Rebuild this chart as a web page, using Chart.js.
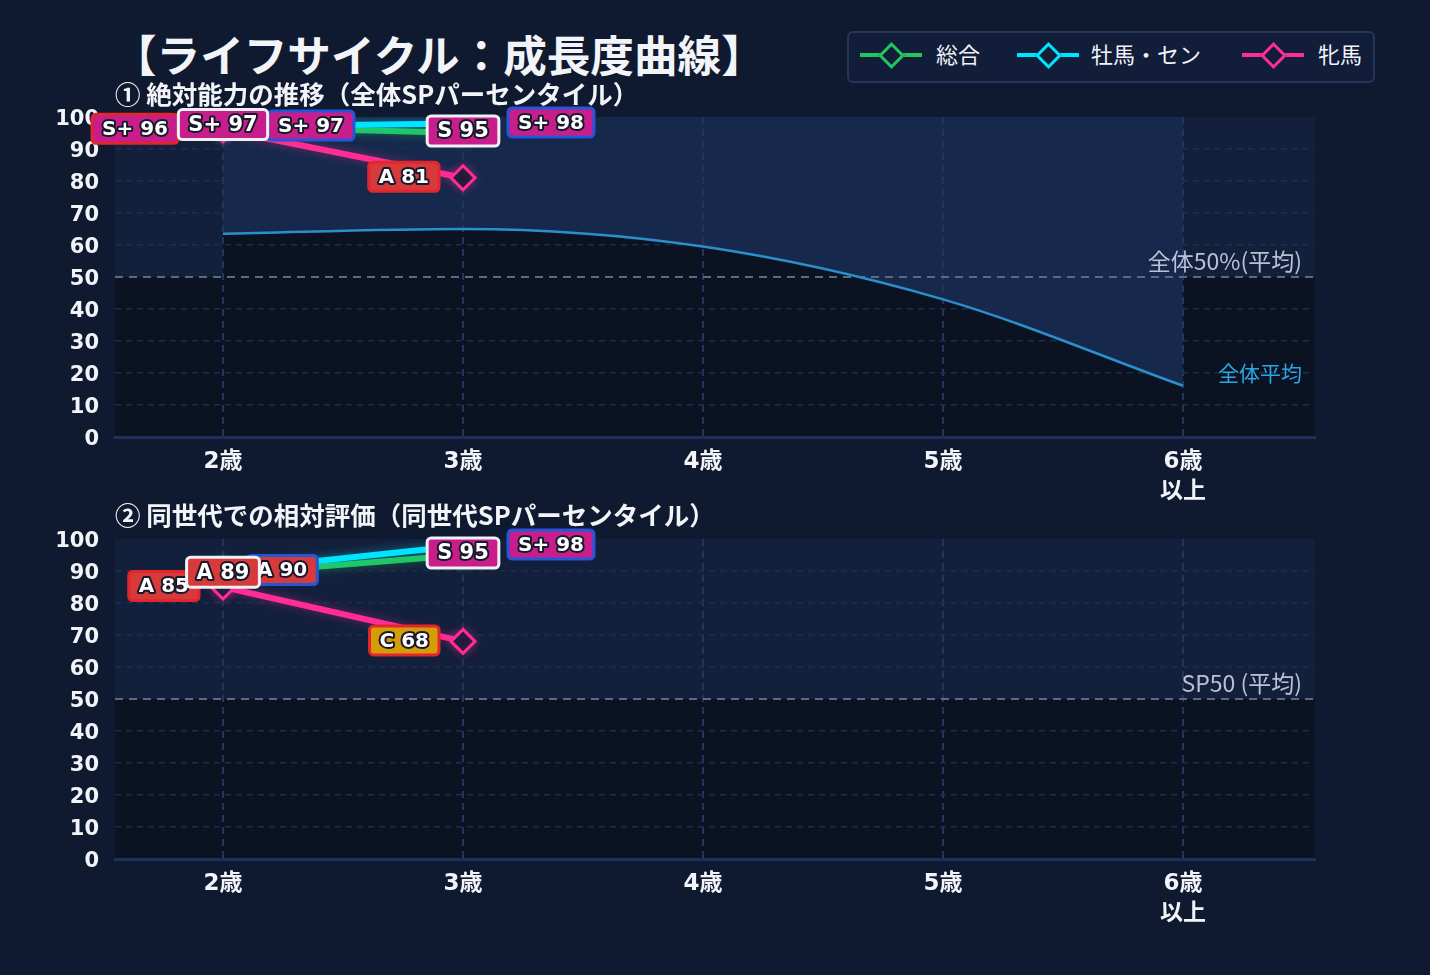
<!DOCTYPE html>
<html lang="ja">
<head>
<meta charset="utf-8">
<title>ライフサイクル：成長度曲線</title>
<script src="https://cdn.jsdelivr.net/npm/chart.js@4.4.1/dist/chart.umd.min.js"></script>
<style>
  html, body { margin: 0; padding: 0; background: #0f1a30; width: 1430px; height: 975px; overflow: hidden; }
  body { font-family: "Noto Sans CJK JP", "DejaVu Sans", sans-serif; color: #f2f4f8; position: relative; }
  .title { position: absolute; left: 113px; top: 32px; font-size: 43.6px; font-weight: 700; line-height: 1; white-space: nowrap; z-index: 2; }
  .sub { position: absolute; left: 115px; font-size: 25.5px; font-weight: 700; line-height: 1; white-space: nowrap; z-index: 2; }
  #sub1 { top: 80px; }
  #sub2 { top: 501px; }
  canvas { position: absolute; left: 0; z-index: 1; }
  #chart1 { top: 100px; }
  #chart2 { top: 522px; }
  .legend { position: absolute; left: 847px; top: 31px; width: 524px; height: 48px; background: #111d39; border: 2px solid #26365a; border-radius: 6px; z-index: 2; }
  .legend .line { position: absolute; top: 20px; width: 62px; height: 4px; }
  .legend .dia { position: absolute; top: 13px; width: 13px; height: 13px; background: #111d39; border: 3px solid; transform: rotate(45deg); }
  .legend .txt { position: absolute; top: 7px; font-size: 22px; line-height: 1.2; color: #f2f4f8; }
</style>
</head>
<body>
<div class="title">【ライフサイクル：成長度曲線】</div>
<div class="sub" id="sub1">① 絶対能力の推移（全体SPパーセンタイル）</div>
<div class="sub" id="sub2">② 同世代での相対評価（同世代SPパーセンタイル）</div>
<div class="legend" id="legend"></div>
<canvas id="chart1" width="1430" height="420"></canvas>
<canvas id="chart2" width="1430" height="420"></canvas>
<script>
// 年齢カテゴリ
const ageLabels = [['2歳'], ['3歳'], ['4歳'], ['5歳'], ['6歳', '以上']];
const seriesNames = ['総合', '牡馬・セン', '牝馬'];

// ① 全体SPパーセンタイル
const absTotal = [97, 95];
const absMale = [97, 98];
const absFemale = [96, 81];
const absAverage = [63.5, 65, 59.5, 43, 16];

// ② 同世代SPパーセンタイル
const relTotal = [89, 95];
const relMale = [90, 98];
const relFemale = [85, 68];

const FONT_NUM = '"DejaVu Sans", "Noto Sans CJK JP", sans-serif';
const FONT_JP = '"Noto Sans CJK JP", "DejaVu Sans", sans-serif';
const BG = '#0f1a30';

const seriesColors = ['#22c55e', '#00e5ff', '#ff2d95'];
const labelBorders = ['#eef1f6', '#2456d8', '#e2262e'];
const labelSides = [0, 1, -1];      // 総合は中央、牡馬は右、牝馬は左
const labelLayers = [3, 2, 1];      // ラベルの重なり順

const gradeSteps = [[96, 'S+'], [91, 'S'], [81, 'A'], [71, 'B'], [61, 'C'], [0, 'D']];
const gradeColors = { 'S+': '#c81e8c', 'S': '#c81e8c', 'A': '#d63a3a', 'B': '#3a8ad6', 'C': '#d59c06', 'D': '#7a7a8a' };

function grade(v) {
  return gradeSteps.find(s => v >= s[0])[1];
}

function toPoints(values) {
  return values.map((v, i) => ({ x: i, y: v }));
}

function seriesDatasets(list) {
  return list.map((vals, k) => ({
    label: seriesNames[k],
    data: toPoints(vals),
    borderColor: seriesColors[k],
    borderWidth: 6,
    pointStyle: 'rectRot',
    pointRadius: 12,
    pointBorderWidth: 3,
    pointBackgroundColor: BG,
    pointBorderColor: seriesColors[k],
    fill: false,
    order: k === 2 ? 1 : (k === 1 ? 2 : 3),
    glow: seriesColors[k] + '66',
    labelSide: labelSides[k],
    labelLayer: labelLayers[k],
    labelBorder: labelBorders[k]
  }));
}

function averageDatasets(vals) {
  // 平均線より下は暗く、上は明るく塗る
  return [
    {
      label: '全体平均',
      data: toPoints(vals),
      isAverage: true,
      borderColor: '#2b8fcc',
      borderWidth: 2.5,
      pointRadius: 0,
      cubicInterpolationMode: 'monotone',
      fill: 'start',
      backgroundColor: '#0b1222',
      order: 10
    },
    {
      label: '',
      data: toPoints(vals),
      borderWidth: 0,
      borderColor: 'rgba(0,0,0,0)',
      pointRadius: 0,
      cubicInterpolationMode: 'monotone',
      fill: 'end',
      backgroundColor: '#16294d',
      order: 11
    }
  ];
}

// 背景の帯と50%ライン
const refLines = {
  id: 'refLines',
  beforeDraw(chart) {
    const { ctx, chartArea: a, scales: { y } } = chart;
    const y100 = y.getPixelForValue(100), y50 = y.getPixelForValue(50), y0 = y.getPixelForValue(0);
    ctx.save();
    ctx.globalCompositeOperation = 'destination-over';
    ctx.fillStyle = '#13203c';
    ctx.fillRect(a.left, y100, a.width, y50 - y100);
    ctx.fillStyle = '#0b1222';
    ctx.fillRect(a.left, y50, a.width, y0 - y50);
    ctx.restore();
  },
  beforeDatasetsDraw(chart, args, opts) {
    const { ctx, chartArea: a, scales: { y } } = chart;
    const y50 = y.getPixelForValue(50);
    ctx.save();
    ctx.strokeStyle = '#5d6984';
    ctx.lineWidth = 2;
    ctx.setLineDash([8, 6]);
    ctx.beginPath();
    ctx.moveTo(a.left, y50);
    ctx.lineTo(a.right, y50);
    ctx.stroke();
    ctx.setLineDash([]);
    ctx.font = '23px ' + FONT_JP;
    ctx.textAlign = 'right';
    ctx.textBaseline = 'middle';
    ctx.fillStyle = '#b9c1d2';
    ctx.fillText(opts.text, a.right - 13, y50 - 16);
    if (opts.avgText) {
      const i = chart.data.datasets.findIndex(d => d.isAverage);
      const pts = chart.getDatasetMeta(i).data;
      const last = pts[pts.length - 1];
      ctx.font = '21px ' + FONT_JP;
      ctx.fillStyle = '#2aa6e0';
      ctx.fillText(opts.avgText, a.right - 13, last.y - 13);
    }
    ctx.restore();
  }
};

// 線の発光
const glow = {
  id: 'glow',
  beforeDatasetDraw(chart, args) {
    const ds = chart.data.datasets[args.index];
    if (!ds.glow) return;
    chart.ctx.save();
    chart.ctx.shadowColor = ds.glow;
    chart.ctx.shadowBlur = 10;
  },
  afterDatasetDraw(chart, args) {
    const ds = chart.data.datasets[args.index];
    if (!ds.glow) return;
    chart.ctx.restore();
  }
};

// ランク付きの値ラベル
const pointLabels = {
  id: 'pointLabels',
  afterDatasetsDraw(chart) {
    const { ctx } = chart;
    const items = [];
    chart.data.datasets.forEach((ds, i) => {
      if (ds.labelBorder) items.push({ ds, meta: chart.getDatasetMeta(i) });
    });
    items.sort((p, q) => p.ds.labelLayer - q.ds.labelLayer);
    ctx.save();
    items.forEach(({ ds, meta }) => {
      meta.data.forEach((el, j) => {
        const v = ds.data[j].y;
        const g = grade(v);
        const text = g + ' ' + v;
        const side = ds.labelSide;
        const size = side === 0 ? 21 : 20;
        ctx.font = 'bold ' + size + 'px ' + FONT_NUM;
        const w = ctx.measureText(text).width + 20;
        const h = size + 9;
        const gap = text.length > 4 ? 45 : 24;
        let cx = el.x;
        if (side > 0) cx = el.x + gap + w / 2;
        if (side < 0) cx = el.x - gap - w / 2;
        const cy = el.y - (side === 0 ? 2 : 1);
        ctx.beginPath();
        ctx.roundRect(cx - w / 2, cy - h / 2, w, h, 4);
        ctx.fillStyle = gradeColors[g];
        ctx.fill();
        ctx.lineWidth = 3;
        ctx.strokeStyle = ds.labelBorder;
        ctx.stroke();
        ctx.textAlign = 'center';
        ctx.textBaseline = 'middle';
        ctx.lineJoin = 'round';
        ctx.lineWidth = 4;
        ctx.strokeStyle = '#17192b';
        ctx.strokeText(text, cx, cy + 1);
        ctx.fillStyle = '#ffffff';
        ctx.fillText(text, cx, cy + 1);
      });
    });
    ctx.restore();
  }
};

function makeChart(id, datasets, refOpts) {
  return new Chart(document.getElementById(id), {
    type: 'line',
    data: { datasets },
    options: {
      responsive: false,
      animation: false,
      devicePixelRatio: 1,
      layout: { padding: { left: 0, right: 115, top: 17, bottom: 0 } },
      plugins: {
        legend: { display: false },
        tooltip: { enabled: false },
        filler: { drawTime: 'beforeDraw' },
        refLines: refOpts
      },
      scales: {
        x: {
          type: 'linear',
          min: -0.45,
          max: 4.55,
          afterBuildTicks: s => { s.ticks = ageLabels.map((_, i) => ({ value: i })); },
          ticks: {
            autoSkip: false,
            maxRotation: 0,
            color: '#f2f4f8',
            padding: 10,
            font: { family: FONT_NUM, size: 23, weight: 'bold', lineHeight: 1.3 },
            callback: v => ageLabels[v] || ''
          },
          grid: { color: '#22355a', lineWidth: 2, drawTicks: false },
          border: { display: true, color: '#1f3158', width: 3, dash: [7, 5] },
          afterFit: s => { s.height = 83; s.paddingLeft = 0; s.paddingRight = 0; }
        },
        y: {
          min: 0,
          max: 100,
          ticks: {
            stepSize: 10,
            color: '#f2f4f8',
            padding: 16,
            labelOffset: 3,
            font: { family: FONT_NUM, size: 21, weight: 'bold' }
          },
          grid: {
            color: c => (c.tick.value === 50 || c.tick.value === 0 || c.tick.value === 100) ? 'rgba(0,0,0,0)' : '#1d2d50',
            lineWidth: 1.5,
            drawTicks: false
          },
          border: { display: false, dash: [6, 5] },
          afterFit: s => { s.width = 115; s.paddingTop = 0; s.paddingBottom = 0; }
        }
      }
    },
    plugins: [refLines, glow, pointLabels]
  });
}

makeChart('chart1',
  seriesDatasets([absTotal, absMale, absFemale]).concat(averageDatasets(absAverage)),
  { text: '全体50%(平均)', avgText: '全体平均' });

makeChart('chart2',
  seriesDatasets([relTotal, relMale, relFemale]),
  { text: 'SP50 (平均)' });

// 凡例
const legendPos = [11, 168, 393];
const legendText = [87, 242, 469];
const legend = document.getElementById('legend');
seriesNames.forEach((name, k) => {
  const line = document.createElement('div');
  line.className = 'line';
  line.style.left = legendPos[k] + 'px';
  line.style.background = seriesColors[k];
  const dia = document.createElement('div');
  dia.className = 'dia';
  dia.style.left = (legendPos[k] + 31 - 9.5) + 'px';
  dia.style.borderColor = seriesColors[k];
  const txt = document.createElement('div');
  txt.className = 'txt';
  txt.style.left = legendText[k] + 'px';
  txt.textContent = name;
  legend.append(line, dia, txt);
});
</script>
</body>
</html>
